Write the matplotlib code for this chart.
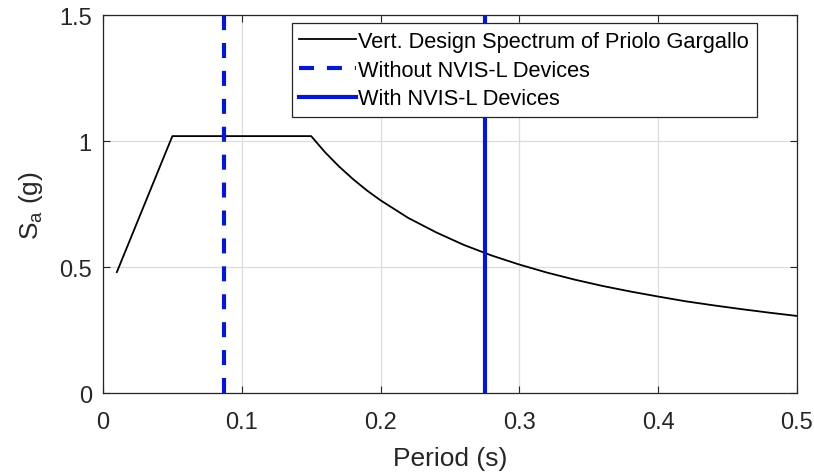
import matplotlib

matplotlib.use("Agg")
import matplotlib.pyplot as plt
import numpy as np

plt.rcParams["font.family"] = ["Liberation Sans", "DejaVu Sans"]
plt.rcParams["mathtext.fontset"] = "custom"
plt.rcParams["mathtext.rm"] = "Liberation Sans"
plt.rcParams["mathtext.it"] = "Liberation Sans"

# vertical design spectrum (period in s, spectral acceleration in g)
period = [0.01, 0.05, 0.15, 0.16, 0.17, 0.18, 0.19, 0.20, 0.22, 0.24, 0.26,
          0.28, 0.30, 0.32, 0.34, 0.36, 0.38, 0.40, 0.42, 0.44, 0.46, 0.48, 0.50]
sa = [0.48, 1.02, 1.02, 0.956, 0.900, 0.850, 0.805, 0.765, 0.695, 0.638, 0.588,
      0.546, 0.510, 0.478, 0.450, 0.425, 0.403, 0.383, 0.364, 0.348, 0.333, 0.319, 0.306]

# fundamental vertical periods
t_without = 0.087
t_with = 0.275

blue = "#0618CC"

fig = plt.figure(figsize=(8.14, 4.77), dpi=100)
ax = fig.add_axes([0.1265, 0.174, 0.8525, 0.792])

ax.plot(period, sa, color="black", lw=1.3, label="Vert. Design Spectrum of Priolo Gargallo")
ax.axvline(t_without, color=blue, lw=3, ls=(0, (3.6, 3.1)), label="Without NVIS-L Devices")
ax.axvline(t_with, color=blue, lw=3, label="With NVIS-L Devices")

ax.set_xlim(0, 0.5)
ax.set_ylim(0, 1.5)
ax.set_xticks(np.arange(0, 0.51, 0.1))
ax.set_xticklabels(["0", "0.1", "0.2", "0.3", "0.4", "0.5"])
ax.set_yticks([0, 0.5, 1, 1.5])
ax.set_yticklabels(["0", "0.5", "1", "1.5"])
ax.grid(True, color="#dcdcdc", lw=0.9)
ax.set_axisbelow(True)
ax.tick_params(direction="in", top=True, right=True, length=5, width=0.8,
               labelsize=17, colors="#262626")
ax.tick_params(axis="x", pad=13)
ax.tick_params(axis="y", pad=8)
for s in ax.spines.values():
    s.set_color("#262626")
    s.set_linewidth(0.9)

ax.set_xlabel("Period (s)", fontsize=19, color="#262626", labelpad=9)
ax.set_ylabel(r"S$_\mathrm{a}$ (g)", fontsize=19, color="#262626", labelpad=10)

leg = ax.legend(loc="upper right", bbox_to_anchor=(0.942, 0.979), fontsize=15.7,
                frameon=True, fancybox=False, handlelength=2.6, handletextpad=0.1,
                borderpad=0.35, labelspacing=0.36, borderaxespad=0)
leg.get_frame().set_edgecolor("#262626")
leg.get_frame().set_linewidth(0.9)
leg.get_frame().set_alpha(1)

fig.savefig("out.png", dpi=100)
plt.close(fig)
